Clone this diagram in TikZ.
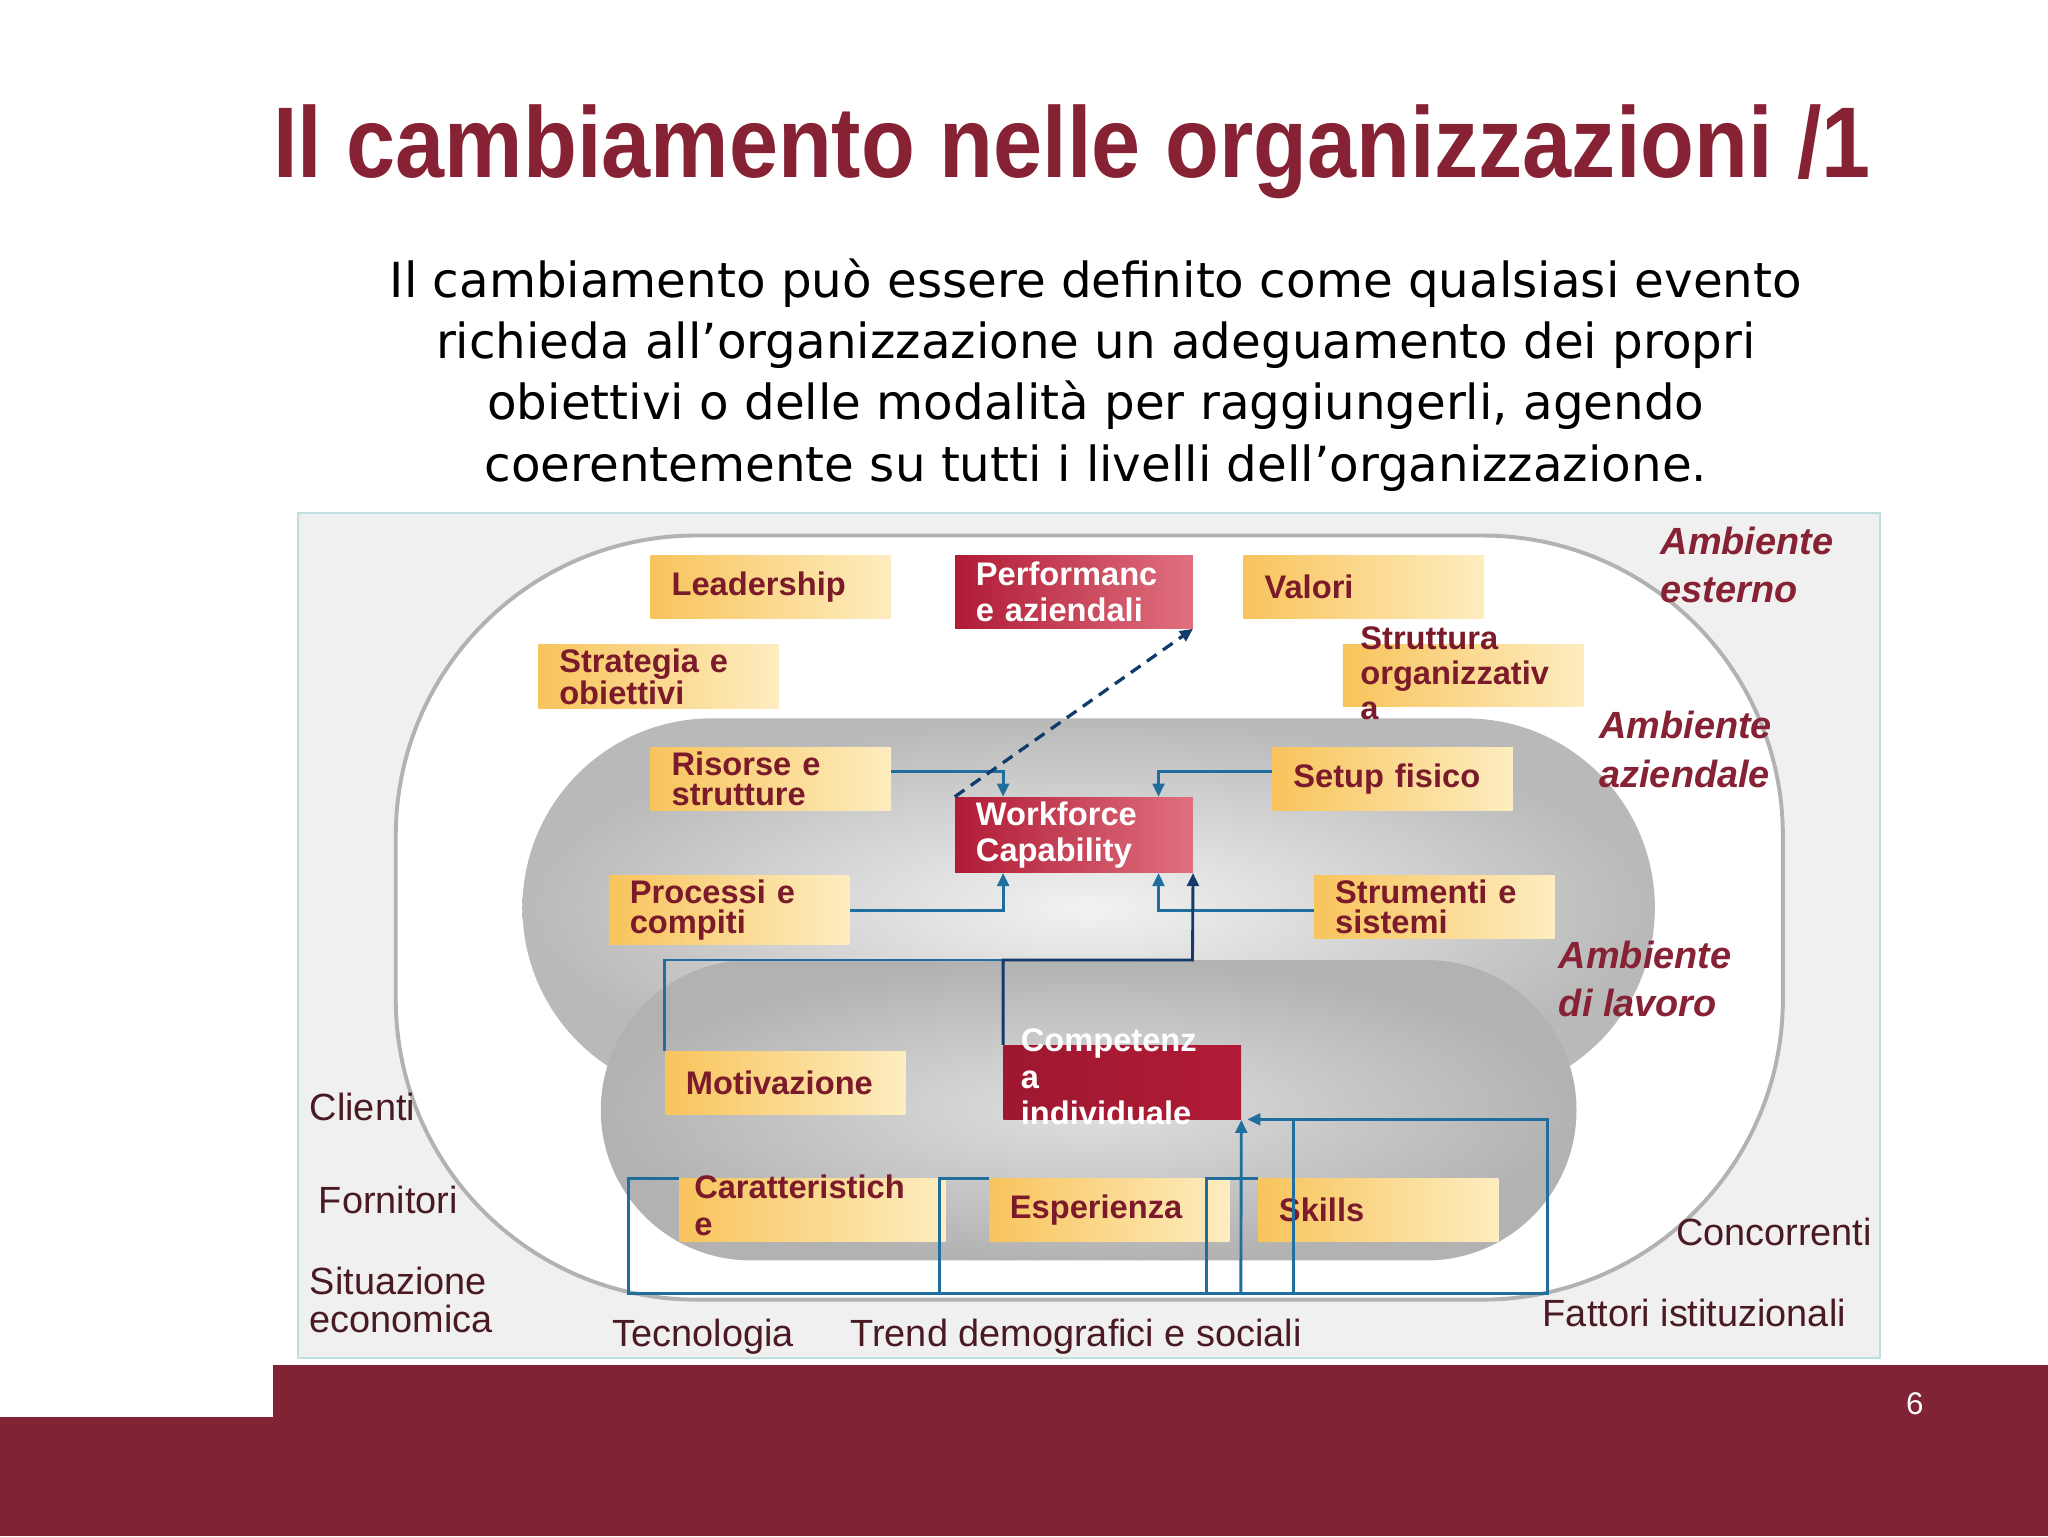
\documentclass[tikz,border=0pt]{standalone}
\usepackage{fontspec}
\setmainfont{Liberation Sans}
\newfontfamily\parafont{DejaVu Sans}
\usetikzlibrary{arrows.meta}
\definecolor{maroon}{HTML}{862234}
\definecolor{band}{HTML}{7F2335}
\definecolor{boxtext}{HTML}{7A1A2A}
\definecolor{yA}{HTML}{F8C45C}
\definecolor{yB}{HTML}{FDEDC0}
\definecolor{rA}{HTML}{B01B35}
\definecolor{rB}{HTML}{E0707F}
\definecolor{lnk}{HTML}{1F6E9E}
\definecolor{dlnk}{HTML}{123A6A}
\definecolor{outer}{HTML}{4A1A22}
\tikzset{
 ybox/.style={anchor=north west,minimum width=184pt,minimum height=48pt,left color=yA,right color=yB,draw=none,
   text=boxtext,font=\fontsize{25}{23}\selectfont\bfseries,align=left,text width=152pt,inner xsep=16pt},
 rbox/.style={anchor=north west,minimum width=182pt,minimum height=56pt,left color=rA,right color=rB,draw=none,
   text=white,font=\fontsize{25}{28}\selectfont\bfseries,align=left,text width=150pt,inner xsep=16pt},
 amb/.style={anchor=north west,text=maroon,font=\fontsize{29}{37}\selectfont\bfseries\itshape,align=left},
 ext/.style={anchor=north west,text=outer,font=\fontsize{29}{29}\selectfont,align=left,inner sep=0pt},
 conn/.style={draw=lnk,line width=2.2pt,-{Triangle[length=10pt,width=9pt]}},
 cline/.style={draw=lnk,line width=2.2pt},
}
\begin{document}
\begin{tikzpicture}[x=1pt,y=-1pt]
\useasboundingbox (0,0) rectangle (1568,1176);
\fill[white] (0,0) rectangle (1568,1176);
\fill[band] (209,1045) rectangle (1568,1176);
\fill[band] (0,1085) rectangle (209,1176);
\node[text=white,font=\fontsize{24}{24}\selectfont] (pg) at (1466,1075) {6};
\node[anchor=north west,inner sep=0pt,text=maroon] (title) at (209,80)
 {\resizebox*{1223pt}{72pt}{\bfseries Il cambiamento nelle organizzazioni /1}};
\node[font=\parafont\fontsize{37}{47}\selectfont,align=center,text=black] (para) at (839,287)
 {Il cambiamento può essere definito come qualsiasi evento\\richieda all’organizzazione un adeguamento dei propri\\obiettivi o delle modalità per raggiungerli, agendo\\coerentemente su tutti i livelli dell’organizzazione.};
% panel
\draw[fill=gray!12,draw=teal!25,line width=1.5pt] (228,393) rectangle (1439,1040);
\draw[fill=white,draw=gray!60,line width=3pt,rounded corners=230pt] (303,410) rectangle (1365,995);
\shade[inner color=gray!10,outer color=gray!55,rounded corners=145pt] (400,550) rectangle (1267,840);
\shade[inner color=gray!25,outer color=gray!60,rounded corners=115pt] (460,735) rectangle (1207,965);
% labels
\node[amb] (ae) at (1268,400) {Ambiente\\esterno};
\node[amb] (az) at (1221,541) {Ambiente\\aziendale};
\node[amb] (al) at (1190,717) {Ambiente\\di lavoro};
\node[ext] (cl) at (237,837) {Clienti};
\node[ext] (fo) at (244,908) {Fornitori};
\node[ext] (si) at (237,970) {Situazione\\economica};
\node[ext] (te) at (469,1010) {Tecnologia};
\node[ext] (tr) at (651,1010) {Trend demografici e sociali};
\node[ext] (co) at (1283,932) {Concorrenti};
\node[ext] (fa) at (1181,994) {Fattori istituzionali};
% boxes
\node[ybox] (lead) at (498,425) {Leadership};
\node[rbox] (perf) at (731,425) {Performanc\\e aziendali};
\node[ybox] (val) at (952,425) {Valori};
\node[ybox] (str) at (412,493) {Strategia e\\obiettivi};
\node[ybox,minimum width=183pt] (org) at (1028,493) {};
\node[anchor=north west,text=boxtext,font=\fontsize{25}{27}\selectfont\bfseries,align=left] (orgt) at (1038,476) {Struttura\\organizzativ\\a};
\node[ybox] (ris) at (498,572) {Risorse e\\strutture};
\node[rbox] (wf) at (731,610) {Workforce\\Capability};
\node[ybox] (set) at (974,572) {Setup fisico};
\node[ybox] (pro) at (466,670) {Processi e\\compiti};
\node[ybox] (stm) at (1006,670) {Strumenti e\\sistemi};
\node[ybox] (mot) at (509,805) {Motivazione};
\node[rbox,left color=rA!90!black,right color=rA,minimum height=57pt] (comp) at (768,800) {};
\node[anchor=north west,text=white,font=\fontsize{25}{28}\selectfont\bfseries,align=left] (compt) at (778,784) {Competenz\\a\\individuale};
\node[ybox,minimum width=204pt,text width=172pt] (car) at (520,902) {};
\node[anchor=north west,text=boxtext,font=\fontsize{25}{28}\selectfont\bfseries,align=left] (cart) at (528,896) {Caratteristich\\e};
\node[ybox] (esp) at (757,902) {Esperienza};
\node[ybox] (ski) at (963,902) {Skills};
% connectors
\draw[conn] (ris.east |- 0,591) -- (768,591) -- (wf.north -| 768,0);
\draw[conn] (set.west |- 0,591) -- (887,591) -- (wf.north -| 887,0);
\draw[conn] (pro.east |- 0,697) -- (768,697) -- (wf.south -| 768,0);
\draw[conn] (stm.west |- 0,697) -- (887,697) -- (wf.south -| 887,0);
\draw[cline] (mot.north -| 509,0) -- (509,735) -- (768,735);
\draw[conn,draw=dlnk] (comp.north -| 768,0) -- (768,735) -- (913,735) -- (wf.south east);
\draw[dlnk,line width=2.5pt,dash pattern=on 9pt off 6pt,-{Triangle[length=10pt,width=9pt]}] (wf.north west) -- (perf.south east);
\draw[cline] (car.north west) -- (481,902) -- (481,990) -- (1185,990) -- (1185,857) -- (990,857) -- (990,990);
\draw[cline] (esp.north west) -- (719,902) -- (719,990);
\draw[cline] (ski.north west) -- (924,902) -- (924,990);
\draw[conn] (950,990) -- (comp.south east);
\draw[conn] (990,857) -- (955,857);
\end{tikzpicture}
\end{document}
